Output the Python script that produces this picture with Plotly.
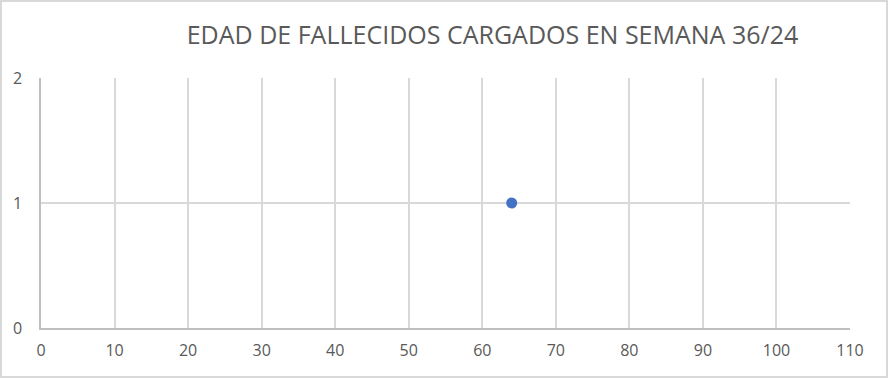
import plotly.graph_objects as go

edad = [64]
cantidad = [1]
titulo = "EDAD DE FALLECIDOS CARGADOS EN SEMANA 36/24"

W, H = 888, 378
ml, mr, mt, mb = 41, 38, 78, 50
pw, ph = W - ml - mr, H - mt - mb

fig = go.Figure(go.Scatter(
    x=edad, y=cantidad, mode="markers",
    marker=dict(size=11, color="#4472C4"),
    hoverinfo="x+y",
))

fig.update_layout(
    width=W, height=H,
    margin=dict(l=ml, r=mr, t=mt, b=mb),
    paper_bgcolor="white", plot_bgcolor="white",
    font=dict(family="Open Sans", color="#595959", size=16),
    title=dict(text=titulo, x=492.5 / W, xanchor="center", y=1 - 35 / H, yanchor="middle",
               font=dict(size=25, color="#595959", family="Open Sans")),
    showlegend=False,
    xaxis=dict(range=[0, 110], dtick=10, tick0=0, showgrid=True, gridcolor="#d9d9d9",
               gridwidth=1.5, showline=True, linecolor="#bfbfbf", linewidth=1.5,
               zeroline=False, tickfont=dict(size=16, color="#595959", family="Open Sans"),
               ticks="", ticklabelstandoff=7, mirror=False),
    yaxis=dict(range=[0, 2], dtick=1, tick0=0, showgrid=True, gridcolor="#d9d9d9",
               gridwidth=1.5, showline=True, linecolor="#bfbfbf", linewidth=1.5,
               zeroline=False, tickfont=dict(size=16, color="#595959", family="Open Sans"),
               ticks="", ticklabelstandoff=14),
    shapes=[dict(type="rect", xref="paper", yref="paper",
                 x0=-(ml - 1) / pw, x1=1 + (mr - 1) / pw,
                 y0=-(mb - 1) / ph, y1=1 + (mt - 1) / ph,
                 line=dict(color="#d9d9d9", width=2), layer="below")],
)

fig.write_html("out.html")
